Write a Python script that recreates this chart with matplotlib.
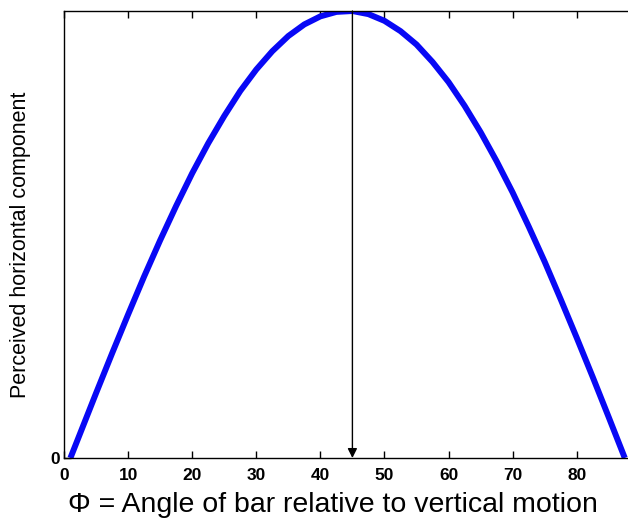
import matplotlib
matplotlib.use("Agg")
import matplotlib.pyplot as plt

phi = [1, 5, 7.5, 10, 12.5, 15, 17.5, 20, 22.5, 25, 27.5, 30, 32.5, 35, 37.5, 40, 42.5, 45,
       47.5, 50, 52.5, 55, 57.5, 60, 62.5, 65, 67.5, 70, 72.5, 75, 77.5, 80, 82.5, 85, 87.5]
horiz = [0.0, 0.145, 0.234, 0.321, 0.406, 0.487, 0.564, 0.637, 0.704, 0.765, 0.821, 0.869,
         0.910, 0.944, 0.970, 0.988, 0.998, 1.0, 0.993, 0.978, 0.955, 0.925, 0.886, 0.841,
         0.788, 0.729, 0.664, 0.594, 0.518, 0.439, 0.355, 0.269, 0.181, 0.091, 0.0]
xticks = [0, 10, 20, 30, 40, 50, 60, 70, 80]
arrow_x = 45

plt.rcParams['font.family'] = ['Liberation Sans', 'DejaVu Sans']
fig = plt.figure(figsize=(6.28, 5.2), dpi=100)
ax = fig.add_axes([64/628, 62/520, 1 - 64/628, (458-11)/520])
ax.plot(phi, horiz, color='#0808f5', lw=4.3, solid_capstyle='butt', clip_on=True)
ax.set_xlim(0, 88)
ax.set_ylim(0, 1)
ax.set_xticks(xticks)
ax.set_yticks([0])
ax.tick_params(direction='in', length=5, width=1, top=True, right=False, labelsize=12.5, pad=3)
ax.tick_params(axis='x', pad=7)
for lab in ax.get_xticklabels() + ax.get_yticklabels():
    lab.set_fontweight('bold')
ax.spines['right'].set_visible(False)
for s in ['left', 'top', 'bottom']:
    ax.spines[s].set_linewidth(1.0)
ax.annotate('', xy=(arrow_x, 0), xytext=(arrow_x, 1),
            arrowprops=dict(arrowstyle='-|>', color='black', lw=1.0, mutation_scale=14,
                            shrinkA=0, shrinkB=0))
ax.set_xlabel('Φ = Angle of bar relative to vertical motion', fontsize=20.5)
ax.xaxis.set_label_coords(0.477, -0.076)
ax.set_ylabel('Perceived horizontal component', fontsize=15.5)
ax.yaxis.set_label_coords(-0.058, 0.476)
fig.savefig('out.png', dpi=100)
